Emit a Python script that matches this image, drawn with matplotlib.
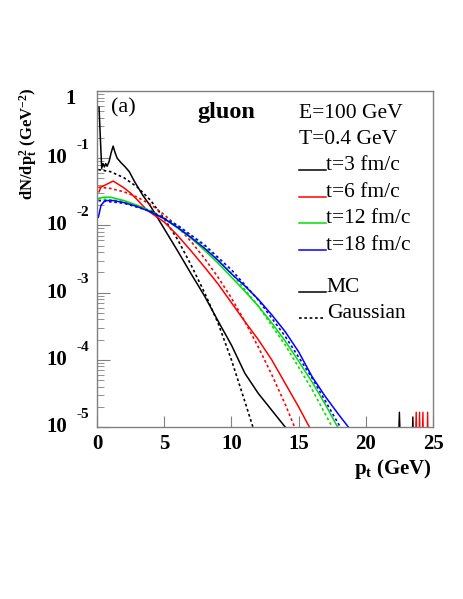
import numpy as np
import matplotlib
matplotlib.use("Agg")
import matplotlib.pyplot as plt

plt.rcParams['font.family'] = ['Liberation Serif', 'DejaVu Serif']
plt.rcParams['mathtext.fontset'] = 'custom'
plt.rcParams['mathtext.rm'] = 'Liberation Serif'
plt.rcParams['mathtext.bf'] = 'Liberation Serif:bold'
plt.rcParams['mathtext.it'] = 'Liberation Serif:italic'

# log10(dN/dpt^2)
mc3_pt = [0.15, 0.25, 0.35, 0.45, 0.55, 0.65, 0.75, 0.9, 1.05, 1.2, 1.35, 1.5, 1.8, 2.1, 2.4,
          2.8, 3.4, 4, 5, 6, 7, 8, 9, 10, 11, 12, 13, 14]
mc3_lg = [-0.24, -0.7, -1.15, -1.08, -1.13, -1.08, -1.12, -1.05, -0.92, -0.82, -0.92, -1.0, -1.07, -1.13, -1.2,
          -1.35, -1.55, -1.72, -2.05, -2.38, -2.72, -3.05, -3.42, -3.78, -4.2, -4.5, -4.75, -5.0]
ga3_pt = [0.1, 1, 2, 3, 4, 5, 6, 7, 8, 9, 10, 11, 11.6]
ga3_lg = [-1.17, -1.2, -1.29, -1.43, -1.63, -1.9, -2.21, -2.59, -3.0, -3.45, -4.0, -4.62, -5.0]

mc6_pt = [0.15, 0.3, 0.6, 1.2, 2, 2.5, 3, 3.7, 5, 6, 7, 8, 8.6, 9, 10, 11, 12, 13, 14, 15, 15.8]
mc6_lg = [-1.5, -1.43, -1.4, -1.34, -1.44, -1.52, -1.62, -1.77, -1.95, -2.15, -2.38, -2.62, -2.77, -2.87,
          -3.15, -3.43, -3.7, -4.0, -4.35, -4.7, -5.0]
ga6_pt = [0.1, 1, 2, 3, 4, 5, 6, 7, 8, 9, 10, 11, 12, 13, 14, 14.7]
ga6_lg = [-1.43, -1.45, -1.5, -1.58, -1.69, -1.84, -2.02, -2.24, -2.49, -2.77, -3.08, -3.43, -3.81, -4.22,
          -4.66, -5.0]

mc12_pt = [0.1, 0.5, 1, 2, 3, 4, 5, 6, 7, 8, 9, 10, 11, 12, 13, 14, 15, 16, 17, 17.9]
mc12_lg = [-1.6, -1.58, -1.58, -1.63, -1.7, -1.79, -1.9, -2.04, -2.19, -2.37, -2.56, -2.77, -2.98, -3.2,
           -3.45, -3.72, -4.02, -4.33, -4.67, -5.0]
ga12_pt = [0.1, 2, 4, 6, 8, 10, 12, 14, 16, 17.5]
ga12_lg = [-1.6, -1.64, -1.78, -2.0, -2.31, -2.71, -3.2, -3.78, -4.44, -5.0]

mc18_pt = [0.1, 0.3, 0.6, 1.2, 2, 3, 4, 5, 6, 7, 8, 9, 10, 11, 12, 13, 14, 15, 16, 17, 18, 18.7]
mc18_lg = [-1.88, -1.7, -1.63, -1.63, -1.66, -1.72, -1.8, -1.9, -2.03, -2.18, -2.34, -2.52, -2.72, -2.9,
           -3.1, -3.33, -3.58, -3.88, -4.25, -4.55, -4.82, -5.0]
ga18_pt = [0.1, 2, 4, 6, 8, 10, 12, 14, 16, 18.1]
ga18_lg = [-1.63, -1.67, -1.79, -2.0, -2.29, -2.66, -3.11, -3.65, -4.27, -5.0]

# statistical noise at the tail
tail_k_pt = [22.3, 22.5, 22.7, 23.35, 23.5, 23.65]
tail_k_lg = [-6, -4.78, -6, -6, -4.85, -6]
tail_r_pt = [23.6, 23.75, 23.9, 24.0, 24.1, 24.25, 24.35, 24.5, 24.6, 24.7, 24.85]
tail_r_lg = [-6, -4.78, -6, -4.78, -6, -4.78, -6, -6, -4.78, -6, -6]

series = [
    (mc3_pt, mc3_lg, ga3_pt, ga3_lg, 'black', 't=3 fm/c'),
    (mc6_pt, mc6_lg, ga6_pt, ga6_lg, '#ff0000', 't=6 fm/c'),
    (mc12_pt, mc12_lg, ga12_pt, ga12_lg, '#00e000', 't=12 fm/c'),
    (mc18_pt, mc18_lg, ga18_pt, ga18_lg, '#0000ff', 't=18 fm/c'),
]

W, H = 463, 599
fig = plt.figure(figsize=(W / 100, H / 100), dpi=100)
L, R, T, B = 97, 433, 91, 427
ax = fig.add_axes([L / W, 1 - B / H, (R - L) / W, (B - T) / H])

dot = (0, (1.6, 1.6))
for mp, ml, gp, gl, c, lab in series:
    ax.plot(gp, 10 ** np.array(gl), color=c, lw=1.2, ls=dot)
    ax.plot(mp, 10 ** np.array(ml), color=c, lw=1.1)
ax.plot(tail_k_pt, 10 ** np.array(tail_k_lg), color='black', lw=1.0)
ax.plot(tail_r_pt, 10 ** np.array(tail_r_lg), color='#ff0000', lw=1.0)

ax.set_yscale('log')
ax.set_xlim(0, 25)
ax.set_ylim(1e-5, 1)
for s in ax.spines.values():
    s.set_color('#808080')
    s.set_linewidth(1.0)
ax.set_xticks([0, 5, 10, 15, 20, 25])
ax.set_xticklabels(['0', '5', '10', '15', '20', '25'], fontsize=15, fontweight='bold')
ax.tick_params(axis='x', direction='in', length=8, color='#808080', pad=5, top=False)
ax.tick_params(axis='y', which='major', direction='in', length=9, color='#808080', labelleft=False)
ax.tick_params(axis='y', which='minor', direction='in', length=5, color='#808080')
ax.yaxis.set_minor_locator(matplotlib.ticker.LogLocator(base=10, subs=np.arange(2, 10)))
ax.yaxis.set_minor_formatter(matplotlib.ticker.NullFormatter())

# ROOT-style decade labels
ytr = ax.get_yaxis_transform()
ax.text(-0.079, 10 ** -0.12, '1', transform=ytr, ha='center', va='center', fontsize=15, fontweight='bold')
for k in [-1, -2, -3, -4, -5]:
    ax.text(-0.089, 10 ** k, '10', transform=ytr, ha='right', va='center', fontsize=15, fontweight='bold')
    ax.text(-0.062, 10 ** (k + 0.19), '-%d' % -k, transform=ytr, ha='left', va='center', fontsize=11,
            fontweight='bold')

fig.text(432 / W, 1 - 474 / H, r'p$_{\mathbf{t}}$ (GeV)', ha='right', va='baseline', fontsize=15,
         fontweight='bold')
fig.text(28 / W, 1 - 87 / H, r'dN/dp$_{\mathbf{t}}^{\mathbf{2}}$ (GeV$^{\mathbf{-2}}$)', rotation=90,
         ha='center', va='top', fontsize=12, fontweight='bold')


def ax_pos(px, py):
    return (px - L) / (R - L), (B - py) / (B - T)


fs = 15.5
ax.text(*ax_pos(111, 112), '(a)', transform=ax.transAxes, fontsize=16, va='baseline')
ax.text(*ax_pos(197, 118), 'gluon', transform=ax.transAxes, fontsize=17.5, fontweight='bold', va='baseline')
ax.text(*ax_pos(299, 118), 'E=100 GeV', transform=ax.transAxes, fontsize=fs, va='baseline')
ax.text(*ax_pos(299, 144), 'T=0.4 GeV', transform=ax.transAxes, fontsize=fs, va='baseline')

rows = [170, 197, 223, 250]
for (mp, ml, gp, gl, c, lab), py in zip(series, rows):
    x0, y0 = ax_pos(299, py)
    x1, _ = ax_pos(326, py)
    ax.plot([x0, x1], [y0, y0], transform=ax.transAxes, color=c, lw=1.1, clip_on=False)
    ax.text(x1, y0, lab, transform=ax.transAxes, fontsize=fs, va='baseline')

x0, y0 = ax_pos(299, 292)
x1, _ = ax_pos(326, 292)
ax.plot([x0, x1], [y0, y0], transform=ax.transAxes, color='black', lw=1.1, clip_on=False)
ax.text(x1, y0, 'MC', transform=ax.transAxes, fontsize=fs, va='baseline')
x0, y0 = ax_pos(299, 318)
x1, _ = ax_pos(325, 318)
ax.plot([x0, x1], [y0, y0], transform=ax.transAxes, color='black', lw=1.2, ls=dot, clip_on=False)
ax.text(x1 + 0.005, y0, 'Gaussian', transform=ax.transAxes, fontsize=fs, va='baseline')

fig.savefig('out.png', dpi=100)
